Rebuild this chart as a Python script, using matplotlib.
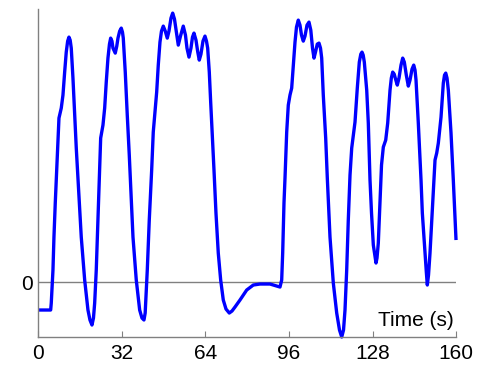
import numpy as np
import matplotlib.pyplot as plt

plt.rcParams['font.family'] = ['Liberation Sans', 'DejaVu Sans']

# Signal (time in s, value in arbitrary units)
time = [0.0, 4.68, 4.91, 5.17, 5.56, 5.94, 6.44, 6.90, 7.47, 7.86, 8.74, 9.39,
        10.04, 10.65, 11.19, 11.69, 12.15, 12.57, 13.22, 13.87, 14.49, 15.14,
        16.40, 17.71, 18.97, 19.74, 20.50, 21.08, 21.54, 22.15, 22.80, 23.45,
        23.84, 24.72, 25.37, 25.98, 26.63, 27.21, 27.67, 28.17, 28.55, 29.43,
        30.01, 30.47, 31.12, 31.73, 32.19, 32.50, 33.26, 34.03, 34.80, 35.56,
        36.22, 37.48, 38.78, 39.66, 40.43, 40.89, 41.20, 41.70, 42.46, 43.38,
        43.99, 44.65, 45.30, 45.91, 46.56, 47.14, 47.83, 48.59, 49.36, 50.01,
        50.78, 51.43, 52.12, 52.89, 53.58, 54.42, 55.49, 56.33, 56.91, 57.68,
        58.44, 59.02, 59.59, 60.36, 61.05, 61.62, 62.27, 63.04, 63.81, 64.38,
        64.84, 65.46, 65.99, 66.76, 67.26, 68.02, 68.90, 69.82, 70.82, 71.86,
        73.12, 74.16, 75.31, 77.22, 79.79, 82.32, 84.89, 88.72, 91.29, 92.55,
        93.20, 93.58, 94.08, 94.47, 95.12, 95.73, 96.38, 97.03, 97.65, 98.30,
        98.87, 99.56, 100.21, 100.79, 101.48, 102.13, 102.90, 103.66, 104.35,
        105.01, 105.58, 106.15, 106.84, 107.50, 108.07, 108.53, 109.14, 110.06,
        110.68, 111.71, 112.98, 114.28, 115.35, 116.20, 116.89, 117.46, 118.11,
        118.72, 119.38, 120.03, 120.64, 121.29, 122.17, 122.94, 123.52, 123.98,
        124.43, 124.86, 125.78, 126.39, 127.04, 127.62, 128.31, 129.34, 129.72,
        130.22, 131.07, 131.45, 132.14, 133.06, 133.82, 134.71, 135.21, 135.74,
        136.31, 136.93, 137.50, 138.15, 138.92, 139.57, 140.19, 140.95, 141.72,
        142.37, 143.14, 143.79, 144.29, 144.67, 145.55, 146.59, 147.09, 148.12,
        148.62, 149.00, 149.46, 150.03, 151.07, 151.57, 151.95, 152.60, 153.22,
        154.25, 155.13, 155.59, 156.06, 156.55, 157.05, 158.08, 158.96, 160.00]
value = [-28, -28, -21, -8, 12, 45, 79, 107, 144, 164, 174, 187,
         210, 230, 241, 245, 242, 234, 204, 167, 134, 104,
         45, 2, -28, -38, -43, -36, -21, 12, 62, 112,
         144, 157, 174, 200, 224, 238, 244, 241, 234, 229,
         236, 244, 251, 254, 250, 244, 210, 167, 127, 82,
         45, 2, -28, -36, -38, -31, -15, 12, 62, 112,
         150, 170, 190, 217, 240, 251, 256, 251, 244, 251,
         264, 269, 263, 249, 237, 246, 256, 247, 234, 225,
         234, 245, 249, 242, 230, 222, 228, 241, 246, 241,
         234, 210, 180, 140, 112, 69, 29, 2, -18, -27,
         -31, -29, -25, -18, -8, -3, -2, -2, -4, -5,
         2, 29, 79, 104, 150, 177, 187, 194, 217, 240,
         255, 262, 257, 247, 241, 246, 257, 260, 252,
         234, 224, 230, 238, 239, 234, 224, 187, 144,
         104, 45, -1, -31, -48, -55, -48, -28, 12,
         62, 107, 134, 147, 160, 194, 220, 228, 230,
         227, 220, 192, 159, 102, 69, 37, 19, 24,
         39, 92, 117, 135, 142, 159, 192, 204, 210,
         208, 202, 197, 204, 217, 224, 220, 207, 196,
         202, 213, 217, 212, 202, 159, 102, 69, 29,
         10, -3, 7, 29, 79, 104, 122, 129, 139,
         165, 199, 207, 209, 204, 192, 149, 102, 42]

xticks = [0, 32, 64, 96, 128, 160]

fig = plt.figure(figsize=(4.93, 3.65), dpi=100)
ax = fig.add_axes([0.078, 0.0767, 0.847, 0.8983])

ax.axhline(0, color='#808080', lw=1, zorder=1)
ax.plot(time, value, color='#0000ff', lw=2.4, zorder=2, clip_on=False,
        solid_joinstyle='round', solid_capstyle='butt')

ax.set_xlim(0, 160)
ax.set_ylim(-55, 273)
ax.set_xticks(xticks)
ax.set_yticks([0])
ax.tick_params(axis='x', direction='in', length=4, color='#808080',
               labelsize=15, pad=5)
ax.tick_params(axis='y', length=0, labelsize=15, pad=4)

for s in ['top', 'right']:
    ax.spines[s].set_visible(False)
for s in ['left', 'bottom']:
    ax.spines[s].set_color('#808080')
    ax.spines[s].set_linewidth(1)

ax.text(159, -48, 'Time (s)', ha='right', va='bottom', fontsize=15)

fig.savefig('out.png', dpi=100)
